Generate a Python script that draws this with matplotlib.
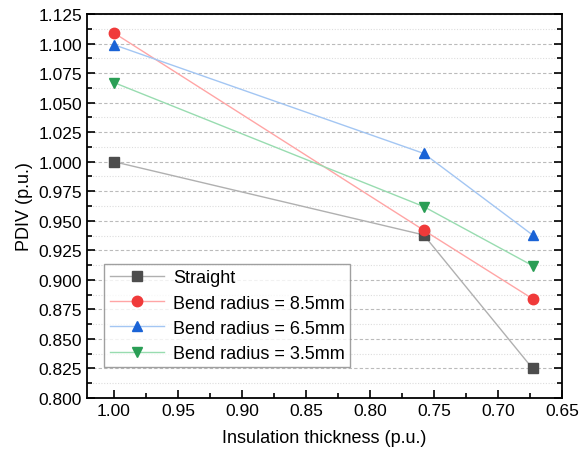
import matplotlib
matplotlib.use("Agg")
import matplotlib.pyplot as plt
from matplotlib.ticker import MultipleLocator, FormatStrFormatter

plt.rcParams['font.family'] = ['Liberation Sans', 'DejaVu Sans']

thickness = [1.00, 0.758, 0.673]
straight = [1.000, 0.938, 0.825]
bend_85 = [1.109, 0.942, 0.884]
bend_65 = [1.099, 1.007, 0.938]
bend_35 = [1.067, 0.962, 0.912]

labels = ["Straight", "Bend radius = 8.5mm", "Bend radius = 6.5mm", "Bend radius = 3.5mm"]
series = [straight, bend_85, bend_65, bend_35]
markers = ['s', 'o', '^', 'v']
mcolors = ['#4d4d4d', '#f03a3a', '#1a63d6', '#2a9e55']
lcolors = ['#b0b0b0', '#ffa5a5', '#a3c6f3', '#98dcb0']

fig = plt.figure(figsize=(5.87, 4.56), dpi=100)
ax = fig.add_axes([87/587, 1 - 399/456, (562-87)/587, (399-15)/456])

for y, lab, m, mc, lc in zip(series, labels, markers, mcolors, lcolors):
    ax.plot(thickness, y, color=lc, lw=1.0, marker=m, markersize=7.5,
            markerfacecolor=mc, markeredgecolor=mc, label=lab, zorder=3)

ax.set_xlim(1.021, 0.65)
ax.set_ylim(0.800, 1.125)
ax.xaxis.set_major_locator(MultipleLocator(0.05))
ax.xaxis.set_minor_locator(MultipleLocator(0.025))
ax.yaxis.set_major_locator(MultipleLocator(0.025))
ax.yaxis.set_minor_locator(MultipleLocator(0.0125))
ax.xaxis.set_major_formatter(FormatStrFormatter('%.2f'))
ax.yaxis.set_major_formatter(FormatStrFormatter('%.3f'))

ax.tick_params(which='both', direction='in', right=True, top=False, labelsize=12.5, width=1.2)
ax.tick_params(which='major', length=6)
ax.tick_params(which='minor', length=3.5)

ax.grid(axis='y', which='major', linestyle=(0, (3, 2)), color='#bbbbbb', lw=0.8)
ax.grid(axis='y', which='minor', linestyle=(0, (1, 1.5)), color='#dddddd', lw=0.8)
ax.set_axisbelow(True)

for s in ax.spines.values():
    s.set_linewidth(1.3)

ax.set_xlabel("Insulation thickness (p.u.)", fontsize=13, labelpad=8)
ax.set_ylabel("PDIV (p.u.)", fontsize=13, labelpad=4)

leg = ax.legend(loc='lower left', bbox_to_anchor=(0.036, 0.08), fontsize=13, frameon=True,
                fancybox=False, edgecolor='#888888', handlelength=3.0, borderpad=0.3,
                labelspacing=0.45, handletextpad=0.5, borderaxespad=0)
leg.get_frame().set_linewidth(1.0)

fig.savefig("out.png", dpi=100)
